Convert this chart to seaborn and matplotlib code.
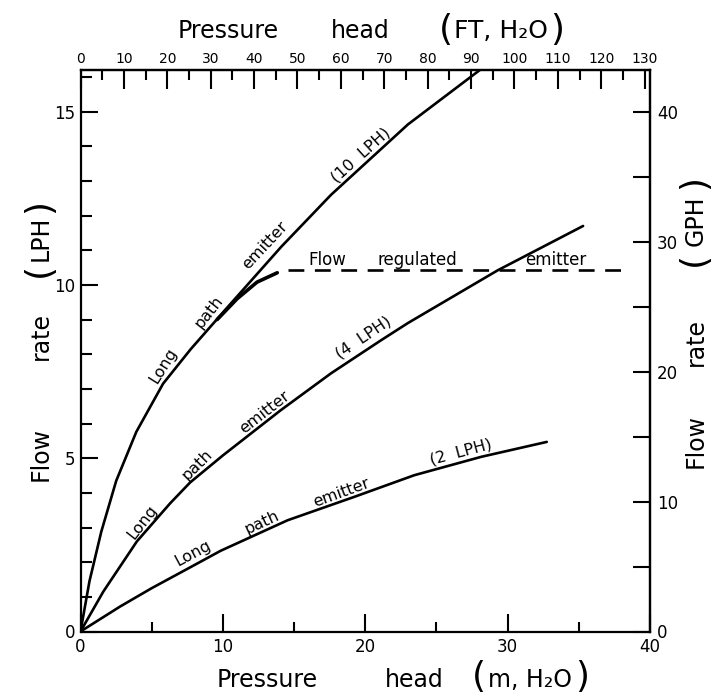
import matplotlib
matplotlib.use("Agg")
import matplotlib.pyplot as plt
import seaborn as sns
from matplotlib.ticker import MultipleLocator, FixedLocator

# ---- data (pressure head in m H2O, flow in LPH) ----
pressure_10 = [0, 0.63, 1.46, 2.51, 3.92, 5.8, 7.75, 10.1, 14.1, 17.6, 23.0, 28.05]
flow_10 = [0, 1.45, 2.88, 4.35, 5.76, 7.15, 8.15, 9.25, 11.1, 12.6, 14.63, 16.2]
pressure_4 = [0, 1.6, 3.96, 6.3, 7.7, 10.0, 14.05, 17.6, 21.1, 23.0, 29.3, 35.3]
flow_4 = [0, 1.15, 2.6, 3.7, 4.3, 5.08, 6.38, 7.45, 8.4, 8.9, 10.42, 11.7]
pressure_2 = [0, 2.78, 5.0, 7.7, 9.85, 14.55, 19.2, 23.45, 28.15, 32.75]
flow_2 = [0, 0.72, 1.25, 1.85, 2.33, 3.21, 3.88, 4.51, 5.04, 5.47]
reg_solid_pressure = [9.6, 11.0, 12.4, 13.82]
reg_solid_flow = [9.0, 9.6, 10.08, 10.35]
reg_dash_pressure = [14.6, 38.45]
reg_dash_flow = [10.42, 10.42]

x_ticks_m = [0, 10, 20, 30, 40]
x_minor_m = [5, 15, 25, 35]
y_ticks_lph = [0, 5, 10, 15]
top_ticks_ft = list(range(0, 131, 10))
top_minor_ft = list(range(5, 130, 10))
right_ticks_gph = [0, 10, 20, 30, 40]
right_minor_gph = [5, 15, 25, 35]
FT_PER_M = 3.281
GPH_PER_LPH = 40 / 15

curve_labels = [
    (5.83, 7.68, "Long", 58), (9.0, 9.22, "path", 52), (12.99, 11.14, "emitter", 47),
    (19.68, 13.73, "(10  LPH)", 42),
    (4.37, 3.16, "Long", 52), (8.18, 4.8, "path", 45), (12.92, 6.33, "emitter", 38),
    (19.89, 8.49, "(4  LPH)", 34),
    (7.92, 2.26, "Long", 28), (12.76, 3.16, "path", 25), (18.3, 4.0, "emitter", 20),
    (26.73, 5.18, "(2  LPH)", 15),
]
reg_labels = [(17.34, 10.72, "Flow"), (23.68, 10.72, "regulated"), (33.4, 10.72, "emitter")]

sns.set_theme(style="ticks")
plt.rcParams['font.family'] = ['DejaVu Sans']
plt.rcParams['axes.edgecolor'] = 'black'
plt.rcParams['xtick.color'] = 'black'
plt.rcParams['ytick.color'] = 'black'
plt.rcParams['text.color'] = 'black'

W, H = 722, 699
fig = plt.figure(figsize=(W / 100, H / 100), dpi=100)
fig.patch.set_facecolor('white')
ax = fig.add_axes([80.5 / W, 1 - 631.5 / H, (650 - 80.5) / W, (631.5 - 70) / H])

LW = 1.9
for p, f in [(pressure_10, flow_10), (pressure_4, flow_4), (pressure_2, flow_2)]:
    sns.lineplot(x=p, y=f, ax=ax, color='black', linewidth=LW, sort=False, estimator=None)
sns.lineplot(x=reg_solid_pressure, y=reg_solid_flow, ax=ax, color='black', linewidth=2.6,
             sort=False, estimator=None)
sns.lineplot(x=reg_dash_pressure, y=reg_dash_flow, ax=ax, color='black', linewidth=LW,
             sort=False, estimator=None, linestyle=(0, (6, 4)))

ax.set_xlim(0, 40)
ax.set_ylim(0, 16.2)
ax.set_xlabel('')
ax.set_ylabel('')
ax.set_xticks(x_ticks_m)
ax.set_xticks(x_minor_m, minor=True)
ax.set_yticks(y_ticks_lph)
ax.yaxis.set_minor_locator(MultipleLocator(1))
for s in ax.spines.values():
    s.set_visible(True)
    s.set_linewidth(1.6)
    s.set_color('black')
ax.tick_params(axis='x', which='major', direction='in', length=13, width=1.5, labelsize=12, pad=5)
ax.tick_params(axis='x', which='minor', direction='in', length=7, width=1.5)
ax.tick_params(axis='y', which='major', direction='in', length=12, width=1.5, labelsize=12, pad=4)
ax.tick_params(axis='y', which='minor', direction='in', length=8, width=1.5)

secx = ax.secondary_xaxis('top', functions=(lambda m: m * FT_PER_M, lambda f: f / FT_PER_M))
secx.xaxis.set_major_locator(FixedLocator(top_ticks_ft))
secx.xaxis.set_minor_locator(FixedLocator(top_minor_ft))
secx.tick_params(which='major', direction='in', length=14, width=1.5, labelsize=10, pad=3)
secx.tick_params(which='minor', direction='in', length=7, width=1.5)
secx.spines['top'].set_linewidth(1.6)

secy = ax.secondary_yaxis('right', functions=(lambda q: q * GPH_PER_LPH, lambda g: g / GPH_PER_LPH))
secy.yaxis.set_major_locator(FixedLocator(right_ticks_gph))
secy.yaxis.set_minor_locator(FixedLocator(right_minor_gph))
secy.tick_params(which='major', direction='in', length=12, width=1.5, labelsize=12, pad=5)
secy.tick_params(which='minor', direction='in', length=12, width=1.5)
secy.spines['right'].set_linewidth(1.6)

for x, y, t, r in curve_labels:
    ax.text(x, y, t, rotation=r, rotation_mode='anchor', ha='center', va='center', fontsize=11.5)
for x, y, t in reg_labels:
    ax.text(x, y, t, ha='center', va='center', fontsize=12)


def ftext(x, y, t, fs=17, rot=0):
    fig.text(x / W, 1 - y / H, t, fontsize=fs, rotation=rot, ha='center', va='center')


# bottom label
ftext(267, 680, "Pressure")
ftext(414, 680, "head")
ftext(479, 677, "(", fs=26)
ftext(530, 680, "m, H₂O")
ftext(582, 677, ")", fs=26)
# top label
ftext(228, 31, "Pressure")
ftext(360, 31, "head")
ftext(446, 30, "(", fs=26)
ftext(501, 31, "FT, H₂O", fs=18)
ftext(557, 30, ")", fs=26)
# left label
ftext(41, 454, "Flow", rot=90)
ftext(41, 336, "rate", rot=90)
ftext(39, 270, "(", fs=26, rot=90)
ftext(41, 238, "LPH", rot=90)
ftext(39, 206, ")", fs=26, rot=90)
# right label
ftext(696, 441, "Flow", rot=90)
ftext(696, 342, "rate", rot=90)
ftext(694, 259, "(", fs=26, rot=90)
ftext(696, 221, "GPH", rot=90)
ftext(694, 182, ")", fs=26, rot=90)

fig.savefig("out.png", dpi=100, facecolor='white')
